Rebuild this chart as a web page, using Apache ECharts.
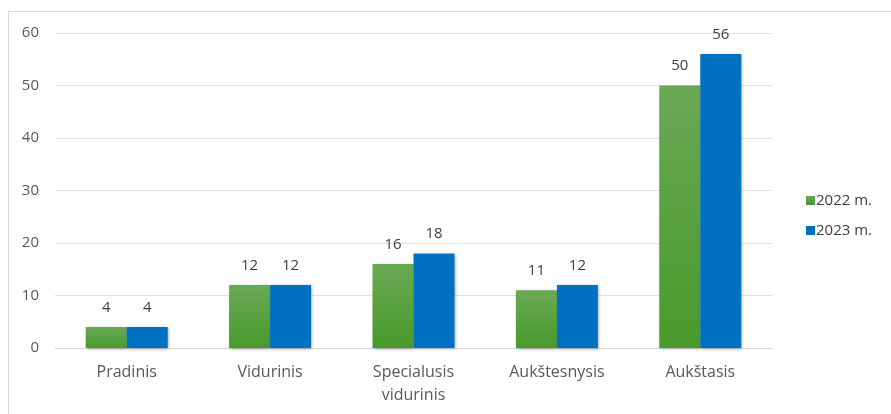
<!DOCTYPE html>
<html>
<head>
<meta charset="utf-8">
<script src="https://cdn.jsdelivr.net/npm/echarts@6/dist/echarts.min.js"></script>
<style>
  html, body { margin: 0; padding: 0; background: #fff; }
  #chart { width: 891px; height: 414px; }
</style>
</head>
<body>
<div id="chart"></div>
<script>
const categories = ["Pradinis", "Vidurinis", "Specialusis\nvidurinis", "Aukštesnysis", "Aukštasis"];
const values2022 = [4, 12, 16, 11, 50];
const values2023 = [4, 12, 18, 12, 56];
const seriesNames = ["2022 m.", "2023 m."];
const yTicks = { min: 0, max: 60, interval: 10 };

const myChart = echarts.init(document.getElementById("chart"));
const font = "'Open Sans', 'Noto Sans', sans-serif";

const shadow = {
  shadowBlur: 3,
  shadowColor: "rgba(0,0,0,0.35)",
  shadowOffsetX: 1,
  shadowOffsetY: 1,
};

const option = {
  animation: false,
  textStyle: { fontFamily: font },
  graphic: [
    {
      type: "rect",
      shape: { x: 8.5, y: 11.5, width: 900, height: 420 },
      style: { fill: "none", stroke: "#d9d9d9", lineWidth: 1 },
      silent: true,
    },
  ],
  grid: { left: 55, right: 119, top: 33, bottom: 66 },
  legend: {
    orient: "vertical",
    left: 801,
    top: 188,
    itemWidth: 9,
    itemHeight: 9,
    itemGap: 15,
    icon: "rect",
    textStyle: { color: "#404040", fontSize: 15, fontFamily: font, padding: [0, 0, 0, -4] },
    data: seriesNames,
  },
  xAxis: {
    type: "category",
    data: categories,
    axisLine: { show: true, lineStyle: { color: "#d9d9d9" } },
    axisTick: { show: false },
    axisLabel: { color: "#595959", fontSize: 16, margin: 13, lineHeight: 23, interval: 0 },
  },
  yAxis: {
    type: "value",
    min: yTicks.min,
    max: yTicks.max,
    interval: yTicks.interval,
    axisLine: { show: false },
    axisTick: { show: false },
    splitLine: { lineStyle: { color: "#e0e0e0" } },
    axisLabel: { color: "#595959", fontSize: 15, margin: 16 },
  },
  series: [
    {
      name: seriesNames[0],
      type: "bar",
      data: values2022,
      barWidth: 41,
      barGap: "0%",
      itemStyle: Object.assign({
        color: new echarts.graphic.LinearGradient(0, 0, 0, 1, [
          { offset: 0, color: "#6aa955" },
          { offset: 1, color: "#489a2b" },
        ]),
      }, shadow),
      label: { show: true, position: "top", color: "#404040", fontSize: 15, distance: 12 },
    },
    {
      name: seriesNames[1],
      type: "bar",
      data: values2023,
      barWidth: 41,
      barGap: "0%",
      itemStyle: Object.assign({ color: "#0070c0" }, shadow),
      label: { show: true, position: "top", color: "#404040", fontSize: 15, distance: 12 },
    },
  ],
};

myChart.setOption(option);
</script>
</body>
</html>
